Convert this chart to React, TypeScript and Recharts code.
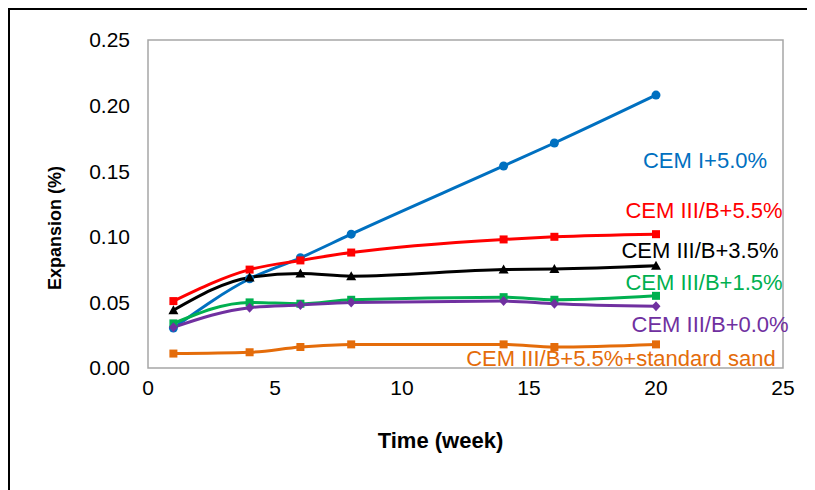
import React from 'react'
import { LineChart, Line, XAxis, YAxis, ReferenceArea, ReferenceDot } from 'recharts'

const WEEKS = [1, 4, 6, 8, 14, 16, 20]
const X_TICKS = [0, 5, 10, 15, 20, 25]
const Y_TICKS = [0, 0.05, 0.1, 0.15, 0.2, 0.25]

const CEM_I_50 = [0.0305, 0.068, 0.084, 0.102, 0.154, 0.1715, 0.208]
const CEM_IIIB_55 = [0.051, 0.075, 0.082, 0.088, 0.098, 0.1, 0.102]
const CEM_IIIB_35 = [0.044, 0.069, 0.072, 0.07, 0.075, 0.0755, 0.078]
const CEM_IIIB_15 = [0.034, 0.05, 0.049, 0.052, 0.054, 0.052, 0.055]
const CEM_IIIB_00 = [0.031, 0.046, 0.048, 0.05, 0.051, 0.049, 0.047]
const CEM_IIIB_55_SAND = [0.011, 0.012, 0.016, 0.018, 0.018, 0.016, 0.018]

const SERIES = [
  { key: 'cemI50', name: 'CEM I+5.0%', values: CEM_I_50, color: '#0070C0', shape: 'circle' },
  { key: 'cemIIIB55', name: 'CEM III/B+5.5%', values: CEM_IIIB_55, color: '#FF0000', shape: 'square' },
  { key: 'cemIIIB35', name: 'CEM III/B+3.5%', values: CEM_IIIB_35, color: '#000000', shape: 'triangle' },
  { key: 'cemIIIB15', name: 'CEM III/B+1.5%', values: CEM_IIIB_15, color: '#00B050', shape: 'square' },
  { key: 'cemIIIB00', name: 'CEM III/B+0.0%', values: CEM_IIIB_00, color: '#7030A0', shape: 'diamond' },
  { key: 'cemIIIB55Sand', name: 'CEM III/B+5.5%+standard sand', values: CEM_IIIB_55_SAND, color: '#E46C0A', shape: 'square' },
]

// where each series name sits, in data units (week, expansion)
const LABEL_SPOTS = [
  { x: 21.93, y: 0.1585 },
  { x: 21.89, y: 0.1204 },
  { x: 21.73, y: 0.0899 },
  { x: 21.89, y: 0.0655 },
  { x: 22.13, y: 0.0335 },
  { x: 18.62, y: 0.0076 },
]

const data = WEEKS.map((w, i) => {
  const row: Record<string, number> = { week: w }
  SERIES.forEach((s) => {
    row[s.key] = s.values[i]
  })
  return row
})

function makeDot(shape: string, color: string) {
  return (props: any) => {
    const { cx, cy, index } = props
    if (cx == null || cy == null) return <g key={index} />
    if (shape === 'circle') return <circle key={index} cx={cx} cy={cy} r={4.5} fill={color} />
    if (shape === 'square')
      return <rect key={index} x={cx - 4} y={cy - 4} width={8} height={8} fill={color} />
    if (shape === 'triangle')
      return <path key={index} d={`M${cx},${cy - 5}L${cx + 5},${cy + 4}L${cx - 5},${cy + 4}Z`} fill={color} />
    return (
      <path
        key={index}
        d={`M${cx},${cy - 5}L${cx + 4.5},${cy}L${cx},${cy + 5}L${cx - 4.5},${cy}Z`}
        fill={color}
      />
    )
  }
}

function XTitle(props: any) {
  const { x, y, width } = props.viewBox
  const cx = x + width / 2 - 25
  const cy = y + 72
  return (
    <text x={cx} y={cy} textAnchor="middle" dominantBaseline="central" fontWeight="bold" fontSize={22} fill="#000">
      Time (week)
    </text>
  )
}

function YTitle(props: any) {
  const { x, y, height } = props.viewBox
  const cx = x + 25
  const cy = y + height / 2 + 24
  return (
    <text
      x={cx}
      y={cy}
      transform={`rotate(-90 ${cx} ${cy})`}
      textAnchor="middle"
      dominantBaseline="central"
      fontWeight="bold"
      fontSize={18}
      fill="#000"
    >
      Expansion (%)
    </text>
  )
}

export default function App() {
  return (
    <div
      style={{
        width: 805,
        height: 480,
        borderTop: '2px solid #000',
        borderLeft: '2px solid #000',
        fontFamily: '"Liberation Sans", Arial, sans-serif',
        background: '#fff',
      }}
    >
      <LineChart width={805} height={480} data={data} margin={{ top: 30, right: 32, left: 20, bottom: 42 }}>
        <XAxis
          dataKey="week"
          type="number"
          domain={[0, 25]}
          ticks={X_TICKS}
          height={80}
          axisLine={false}
          tickLine={false}
          tickSize={0}
          tickMargin={12}
          tick={{ fontSize: 21, fill: '#000' }}
          label={<XTitle />}
        />
        <YAxis
          type="number"
          domain={[0, 0.25]}
          ticks={Y_TICKS}
          width={118}
          axisLine={false}
          tickLine={false}
          tickSize={0}
          tickMargin={18}
          tickFormatter={(v: number) => v.toFixed(2)}
          tick={{ fontSize: 21, fill: '#000' }}
          label={<YTitle />}
        />
        <ReferenceArea x1={0} x2={25} y1={0} y2={0.25} fill="none" stroke="#A6A6A6" strokeWidth={1.5} />
        {SERIES.map((s) => (
          <Line
            key={s.key}
            dataKey={s.key}
            name={s.name}
            type="monotone"
            stroke={s.color}
            strokeWidth={3}
            dot={makeDot(s.shape, s.color)}
            activeDot={false}
            isAnimationActive={false}
          />
        ))}
        {SERIES.map((s, i) => (
          <ReferenceDot
            key={`lbl-${s.key}`}
            x={LABEL_SPOTS[i].x}
            y={LABEL_SPOTS[i].y}
            r={0}
            ifOverflow="visible"
            stroke="none"
            fill="none"
            label={{ value: s.name, position: 'center', fill: s.color, fontSize: 22 }}
          />
        ))}
      </LineChart>
    </div>
  )
}
